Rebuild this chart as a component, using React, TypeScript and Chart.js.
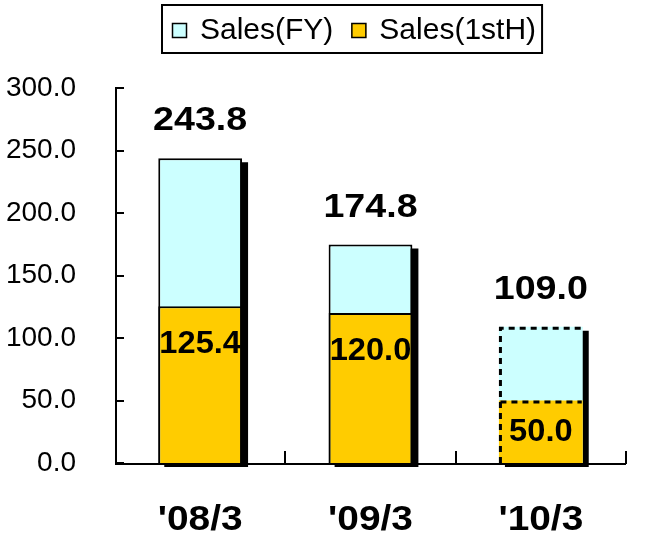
import React, { useEffect, useRef } from "react";
import { Chart, registerables } from "chart.js";

Chart.register(...registerables);

const categories = ["'08/3", "'09/3", "'10/3"];
const salesFY = [243.8, 174.8, 109.0];
const salesFirstHalf = [125.4, 120.0, 50.0];
const forecastIndex = [2];
const yTickValues = [0, 50, 100, 150, 200, 250, 300];

const FONT = "'Liberation Sans', Arial, Helvetica, sans-serif";
const CYAN = "#CCFFFF";
const GOLD = "#FFCC00";

function stretchedText(ctx: any, text: string, x: number, y: number, sx: number) {
  ctx.save();
  ctx.translate(x, y);
  ctx.scale(sx, 1);
  ctx.fillText(text, 0, 0);
  ctx.restore();
}

const customPlugin = {
  id: "customDraw",
  beforeDatasetsDraw(chart: any) {
    const { ctx, chartArea } = chart;
    const { left, right, top, bottom } = chartArea;
    const ys = chart.scales.y;
    ctx.save();
    ctx.strokeStyle = "#000";
    ctx.lineWidth = 2;
    ctx.lineCap = "butt";
    // y axis
    ctx.beginPath();
    ctx.moveTo(left + 1, top - 1);
    ctx.lineTo(left + 1, bottom + 2);
    ctx.stroke();
    yTickValues.forEach((v) => {
      const py = Math.round(ys.getPixelForValue(v));
      ctx.beginPath();
      ctx.moveTo(left, py);
      ctx.lineTo(left + 9, py);
      ctx.stroke();
    });
    // x axis
    ctx.beginPath();
    ctx.moveTo(left, bottom + 1);
    ctx.lineTo(right, bottom + 1);
    ctx.stroke();
    const n = categories.length;
    for (let i = 1; i <= n; i++) {
      const px = Math.round(left + (i * (right - left)) / n);
      ctx.beginPath();
      ctx.moveTo(px, bottom + 1);
      ctx.lineTo(px, bottom - 12);
      ctx.stroke();
    }
    // shadows behind FY bars
    const meta = chart.getDatasetMeta(0);
    ctx.fillStyle = "#000";
    meta.data.forEach((bar: any) => {
      const w = bar.width;
      const l = bar.x - w / 2;
      ctx.fillRect(l + 6, bar.y + 4, w, bar.base - bar.y);
    });
    ctx.restore();
  },
  afterDatasetsDraw(chart: any) {
    const { ctx, chartArea } = chart;
    const metaFY = chart.getDatasetMeta(0);
    const metaH = chart.getDatasetMeta(1);
    ctx.save();
    // dashed outline for forecast
    ctx.strokeStyle = "#000";
    ctx.lineWidth = 3;
    ctx.setLineDash([6, 5]);
    forecastIndex.forEach((i) => {
      const b = metaFY.data[i];
      const h = metaH.data[i];
      const l = b.x - b.width / 2 + 1.5;
      const r = b.x + b.width / 2 - 1;
      ctx.beginPath();
      ctx.moveTo(l, b.base);
      ctx.lineTo(l, b.y + 1.5);
      ctx.lineTo(r, b.y + 1.5);
      ctx.stroke();
      ctx.beginPath();
      ctx.moveTo(l, h.y + 1.5);
      ctx.lineTo(r, h.y + 1.5);
      ctx.stroke();
    });
    ctx.setLineDash([]);
    // value labels
    ctx.fillStyle = "#000";
    ctx.textAlign = "center";
    ctx.textBaseline = "middle";
    ctx.font = `bold 33px ${FONT}`;
    metaFY.data.forEach((b: any, i: number) => {
      stretchedText(ctx, salesFY[i].toFixed(1), b.x, b.y - 37, 1.14);
    });
    ctx.font = `bold 32px ${FONT}`;
    metaH.data.forEach((b: any, i: number) => {
      const mid = (b.y + b.base) / 2;
      stretchedText(ctx, salesFirstHalf[i].toFixed(1), b.x, Math.min(b.y + 38, mid), 1.02);
    });
    // category labels
    ctx.font = `bold 35px ${FONT}`;
    const xs = chart.scales.x;
    categories.forEach((c, i) => {
      stretchedText(ctx, c, xs.getPixelForValue(i), chartArea.bottom + 57, 1.11);
    });
    ctx.restore();
  },
  afterDraw(chart: any) {
    const { ctx } = chart;
    ctx.save();
    ctx.font = `30px ${FONT}`;
    ctx.textBaseline = "middle";
    ctx.textAlign = "left";
    const items = chart.data.datasets.map((d: any) => ({ label: d.label, color: d.backgroundColor }));
    const startX = 172;
    const cy = 30;
    let x = startX;
    items.forEach((it: any, idx: number) => {
      ctx.fillStyle = it.color;
      ctx.fillRect(x, cy - 7, 15, 15);
      ctx.strokeStyle = "#000";
      ctx.lineWidth = 1.5;
      ctx.strokeRect(x + 0.5, cy - 6.5, 14, 14);
      x += 15 + 13;
      ctx.fillStyle = "#000";
      ctx.fillText(it.label, x, cy + 1);
      x += ctx.measureText(it.label).width;
      if (idx < items.length - 1) x += 18;
    });
    ctx.strokeStyle = "#000";
    ctx.lineWidth = 2;
    ctx.strokeRect(startX - 10, 5, x - startX + 16, 48);
    ctx.restore();
  },
};

export default function App() {
  const ref = useRef<HTMLCanvasElement | null>(null);
  useEffect(() => {
    if (!ref.current) return;
    const chart = new Chart(ref.current, {
      type: "bar",
      data: {
        labels: categories,
        datasets: [
          {
            label: "Sales(FY)",
            data: salesFY,
            backgroundColor: CYAN,
            borderColor: "#000",
            borderWidth: (c: any) => (forecastIndex.includes(c.dataIndex) ? 0 : 2),
            grouped: false,
            order: 2,
          } as any,
          {
            label: "Sales(1stH)",
            data: salesFirstHalf,
            backgroundColor: GOLD,
            borderColor: "#000",
            borderWidth: (c: any) => (forecastIndex.includes(c.dataIndex) ? 0 : 2),
            grouped: false,
            order: 1,
          } as any,
        ],
      },
      options: {
        animation: false,
        responsive: false,
        layout: { padding: { top: 88, right: 20, left: 0, bottom: 0 } },
        datasets: { bar: { categoryPercentage: 1, barPercentage: 0.492 } },
        plugins: { legend: { display: false }, tooltip: { enabled: false } },
        scales: {
          x: {
            grid: { display: false },
            border: { display: false },
            ticks: { display: false },
            afterFit: (s: any) => {
              s.height = 80;
            },
          },
          y: {
            min: 0,
            max: 300,
            grid: { display: false },
            border: { display: false },
            ticks: {
              stepSize: 50,
              callback: (v: any) => Number(v).toFixed(1),
              font: { size: 28, family: FONT },
              color: "#000",
              padding: 31,
            },
            afterFit: (s: any) => {
              s.width = 115;
            },
          },
        },
      } as any,
      plugins: [customPlugin],
    });
    return () => chart.destroy();
  }, []);
  return (
    <div style={{ position: "fixed", left: 0, top: 0, width: 646, height: 543, background: "#fff" }}>
      <canvas ref={ref} width={646} height={543} style={{ display: "block" }} />
    </div>
  );
}
